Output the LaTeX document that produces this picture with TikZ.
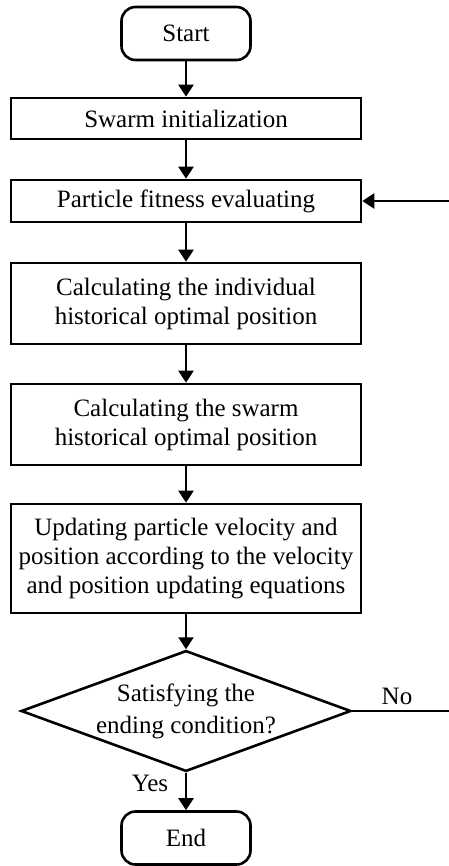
\documentclass[tikz,border=0pt]{standalone}
\usepackage{fontspec}
\setmainfont{Liberation Serif}
\usetikzlibrary{shapes.geometric,arrows.meta}
\tikzstyle{terminal} = [draw, rectangle, rounded corners=7pt, line width=1.3pt, minimum width=64.5pt, minimum height=26.5pt]
\tikzstyle{proceso} = [draw, rectangle, line width=1.3pt, minimum width=175pt, align=center, inner sep=0pt]
\tikzstyle{decision} = [draw, diamond, line width=1.3pt, aspect=2.73, inner sep=0pt, minimum width=162.5pt, minimum height=59.5pt, align=center]
\tikzstyle{flecha} = [line width=1.2pt, -{Triangle[length=6pt,width=7.5pt]}]
\tikzstyle{linea} = [line width=1.2pt]

\begin{document}
\begin{tikzpicture}[x=0.5pt, y=-0.5pt, font=\fontsize{12.5}{14.5}\selectfont]
	\useasboundingbox (0,0) rectangle (449,866);
	\node[terminal] (start) at (186,33.5) {Start};
	\node[proceso, minimum height=20.5pt] (init) at (186,118.5) {Swarm initialization};
	\node[proceso, minimum height=21pt] (fit) at (186,201) {Particle fitness evaluating};
	\node[proceso, minimum height=40.5pt] (indiv) at (186,303.5) {Calculating the individual\\historical optimal position};
	\node[proceso, minimum height=40.5pt] (swarm) at (186,424.5) {Calculating the swarm\\historical optimal position};
	\node[proceso, minimum height=54.5pt] (upd) at (186,558.5) {Updating particle velocity and\\position according to the velocity\\and position updating equations};
	\node[decision] (cond) at (186,711) {Satisfying the\\[1.5pt]ending condition?};
	\node[terminal] (end) at (186,838) {End};
	\node (yes) at (150,783) {Yes};
	\node (no) at (397,696) {No};
	\coordinate (derecha1) at (449,711);
	\coordinate (derecha2) at (449,201);

	\draw[flecha] (start) -- (init);
	\draw[flecha] (init) -- (fit);
	\draw[flecha] (fit) -- (indiv);
	\draw[flecha] (indiv) -- (swarm);
	\draw[flecha] (swarm) -- (upd);
	\draw[flecha] (upd) -- (cond);
	\draw[flecha] (cond) -- (end);
	\draw[linea] (cond.east) -- (derecha1);
	\draw[flecha] (derecha2) -- (fit.east);
\end{tikzpicture}
\end{document}
